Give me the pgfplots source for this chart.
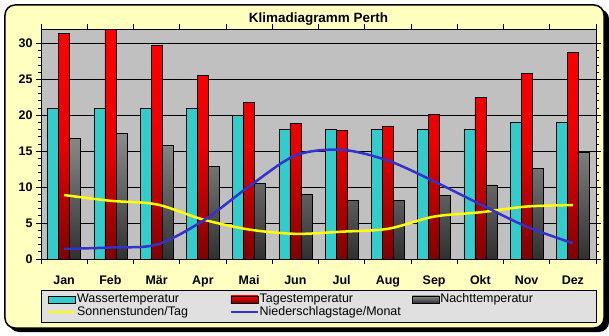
\documentclass[border=0pt]{standalone}
\usepackage{pgfplots}
\pgfplotsset{compat=1.18}
\usepackage{fontspec}
\setmainfont{Liberation Sans}
\usetikzlibrary{backgrounds}
\definecolor{bgyellow}{HTML}{FFFFC0}
\definecolor{plotgray}{HTML}{C0C0C0}
\definecolor{leggray}{HTML}{E0E0E0}
\definecolor{wcyan}{HTML}{33CCCC}
\definecolor{lblue}{HTML}{3333CC}
\definecolor{lyellow}{HTML}{FFFF00}
\definecolor{dred}{HTML}{800000}
\definecolor{lgr}{HTML}{8C8C8C}
\definecolor{dgr}{HTML}{303030}
\begin{document}
\begin{tikzpicture}
\begin{axis}[
  scale only axis, width=555bp, height=230bp,
  xmin=-0.5, xmax=11.5, ymin=0, ymax=32,
  axis background/.style={fill=plotgray},
  axis line style={black, line width=1bp},
  ytick={0,5,...,30}, minor y tick num=4,
  ymajorgrids, major grid style={black, line width=0.8bp},
  tick align=outside, major tick length=5bp, minor tick length=2.5bp,
  tick style={black, line width=0.8bp},
  xtick={-0.5,0.5,...,11.5}, xticklabel={\mbox{}},
  extra x ticks={0,1,2,3,4,5,6,7,8,9,10,11},
  extra x tick labels={Jan,Feb,Mär,Apr,Mai,Jun,Jul,Aug,Sep,Okt,Nov,Dez},
  extra x tick style={major tick length=0pt, xticklabel style={yshift=-13bp}},
  ticklabel style={font=\bfseries\fontsize{12.5}{14}\selectfont},
  /pgf/number format/assume math mode=true,
  title={Klimadiagramm Perth},
  title style={font=\bfseries\fontsize{13.5}{15}\selectfont, at={(0.5,1)}, anchor=base, yshift=1bp},
  legend style={at={(axis description cs:0,0)}, anchor=north west, yshift=-32bp, xshift=3bp,
    draw=none, fill=none, font=\fontsize{12.5}{14}\selectfont,
    nodes={inner sep=0.5bp, text height=9bp, text depth=2.5bp},
    /tikz/every even column/.style={column sep=2bp}},
  legend columns=3, legend cell align=left,
]
\addplot[ybar, bar width=11bp, bar shift=-11bp, fill=wcyan, draw=black, line width=0.6bp,
  legend image code/.code={\draw[fill=wcyan, draw=black, line width=0.6bp] (0bp,-3.5bp) rectangle (27bp,3.5bp);}]
  coordinates {(0,21) (1,21) (2,21) (3,21) (4,20) (5,18) (6,18) (7,18) (8,18) (9,18) (10,19) (11,19)};
\addlegendentry{\makebox[150bp][l]{Wassertemperatur}}
\addplot[ybar, bar width=11bp, bar shift=0bp, top color=red, bottom color=dred, middle color=red!85!dred, draw=black, line width=0.6bp,
  legend image code/.code={\draw[top color=red, bottom color=dred, draw=black, line width=0.6bp] (0bp,-3.5bp) rectangle (27bp,3.5bp);}]
  coordinates {(0,31.4) (1,31.9) (2,29.7) (3,25.5) (4,21.8) (5,18.9) (6,17.9) (7,18.5) (8,20.1) (9,22.5) (10,25.8) (11,28.8)};
\addlegendentry{\makebox[150bp][l]{Tagestemperatur}}
\addplot[ybar, bar width=11bp, bar shift=11bp, top color=lgr, bottom color=dgr, draw=black, line width=0.6bp,
  legend image code/.code={\draw[top color=lgr, bottom color=dgr, draw=black, line width=0.6bp] (0bp,-3.5bp) rectangle (27bp,3.5bp);}]
  coordinates {(0,16.8) (1,17.5) (2,15.8) (3,12.9) (4,10.5) (5,9.0) (6,8.1) (7,8.1) (8,8.9) (9,10.3) (10,12.6) (11,14.9)};
\addlegendentry{\makebox[140bp][l]{Nachttemperatur}}
\addplot[lyellow, line width=2.5bp, smooth, tension=0.5, no marks,
  legend image code/.code={\draw[lyellow, line width=2.5bp] (0bp,0bp) -- (27bp,0bp);}]
  coordinates {(0,8.9) (1,8.1) (2,7.6) (3,5.5) (4,4.1) (5,3.5) (6,3.8) (7,4.2) (8,5.9) (9,6.5) (10,7.3) (11,7.5)};
\addlegendentry{\makebox[150bp][l]{Sonnenstunden/Tag}}
\addplot[lblue, line width=2.5bp, smooth, tension=0.5, no marks,
  legend image code/.code={\draw[lblue, line width=2.5bp] (0bp,0bp) -- (27bp,0bp);}]
  coordinates {(0,1.4) (1,1.6) (2,2.0) (3,5.3) (4,10.1) (5,14.4) (6,15.2) (7,13.7) (8,10.8) (9,7.6) (10,4.5) (11,2.2)};
\addlegendentry{\makebox[150bp][l]{Niederschlagstage/Monat}}
\end{axis}
\begin{pgfonlayer}{background}
  \fill[black, rounded corners=10bp] (-32bp,-73bp) rectangle (568bp,250bp);
  \filldraw[fill=bgyellow, draw=black, line width=1.5bp, rounded corners=10bp] (-36bp,-69bp) rectangle (563bp,254bp);
  \filldraw[fill=leggray, draw=black, line width=0.8bp] (0bp,-31bp) rectangle (555bp,-63bp);
\end{pgfonlayer}
\pgfresetboundingbox
\path (-41bp,-77bp) rectangle (568bp,259bp);
\end{tikzpicture}
\end{document}
